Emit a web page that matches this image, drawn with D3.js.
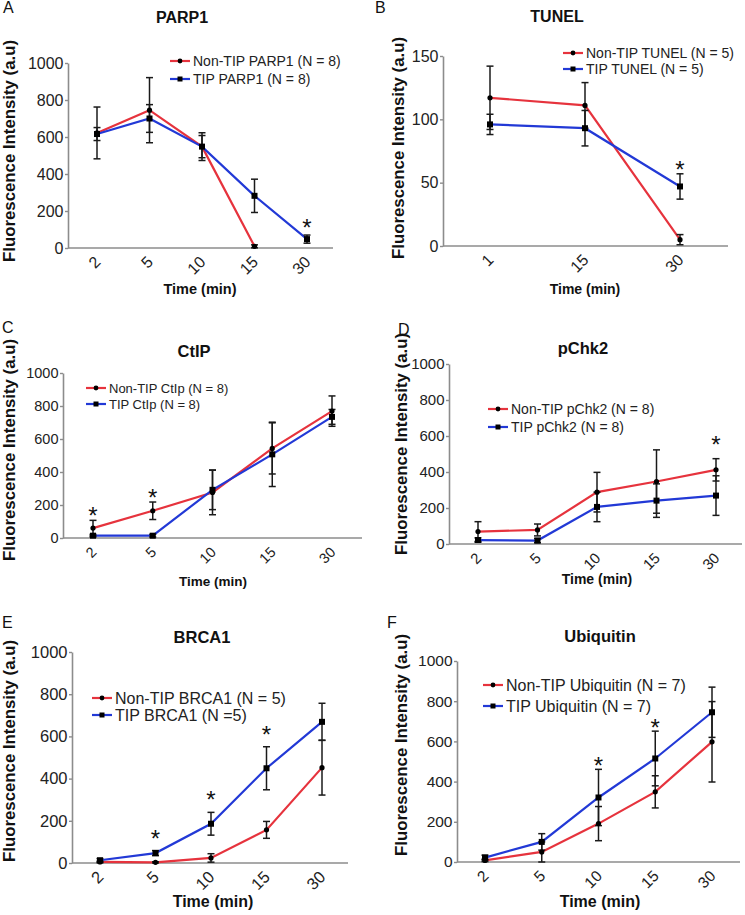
<!DOCTYPE html>
<html><head><meta charset="utf-8">
<script src="https://cdn.jsdelivr.net/npm/d3@7"></script>
<style>
body{margin:0;background:#fff}
svg{display:block}
text{font-family:"Liberation Sans",Arial,Helvetica,sans-serif}
</style>
</head><body>
<svg id="c" width="745" height="915"></svg>
<script>
// ---------- DATA ----------
const timesA = ["2","5","10","15","30"];
const parpNonTip    = [622, 745, 548, 9, null];
const parpNonTipErr = [140, 176, 75, 8, null];
const parpTip       = [616, 700, 548, 282, 48];
const parpTipErr    = [35, 75, 60, 90, 22];
const starsA = ["30"];

const timesB = ["1","15","30"];
const tunelNonTip    = [117, 111, 5];
const tunelNonTipErr = [25, 18, 4];
const tunelTip       = [96, 93, 47];
const tunelTipErr    = [8, 14, 10];
const starsB = ["30"];

const timesC = ["2","5","10","15","30"];
const ctipNonTip    = [60, 165, 276, 543, 769];
const ctipNonTipErr = [47, 53, 135, 155, 92];
const ctipTip       = [14, 14, 292, 507, 734];
const ctipTipErr    = [8, 8, 120, 195, 45];
const starsC = ["2","5"];

const timesD = ["2","5","10","15","30"];
const pchkNonTip    = [69, 78, 288, 347, 412];
const pchkNonTipErr = [55, 33, 110, 176, 62];
const pchkTip       = [22, 19, 206, 241, 269];
const pchkTipErr    = [12, 12, 82, 93, 110];
const starsD = ["30"];

const timesE = ["2","5","10","15","30"];
const brcaNonTip    = [5, 3, 24, 157, 452];
const brcaNonTipErr = [4, 3, 20, 40, 130];
const brcaTip       = [13, 47, 186, 449, 669];
const brcaTipErr    = [8, 12, 54, 102, 88];
const starsE = ["5","10","15"];

const timesF = ["2","5","10","15","30"];
const ubNonTip    = [8, 50, 191, 349, 598];
const ubNonTipErr = [6, 50, 85, 80, 200];
const ubTip       = [22, 100, 321, 515, 745];
const ubTipErr    = [12, 41, 140, 136, 125];
const starsF = ["10","15"];

const yTicks1000 = [0, 200, 400, 600, 800, 1000];
const yTicks150  = [0, 50, 100, 150];

// ---------- LAYOUT ----------
const RED = "#e6333d", BLUE = "#2239d6";
const panels = [
 {letter:"A", title:"PARP1", cats:timesA, red:parpNonTip, redErr:parpNonTipErr, blue:parpTip, blueErr:parpTipErr,
  redName:"Non-TIP PARP1 (N = 8)", blueName:"TIP PARP1 (N = 8)", yMax:1000, yTicks:yTicks1000, stars:starsA,
  L:{ax:68, ax2:333, y0:248, y1:63, x0:97, x1:307, titleX:182, titleY:23, titleFont:16, letterX:3, letterY:13,
     ylabX:15, ylabY:151, timeX:200, timeY:294, timeFont:14.5, legX:170, legY:61, legDy:18, legFont:14, tickFont:16, starGap:13}},
 {letter:"B", title:"TUNEL", cats:timesB, red:tunelNonTip, redErr:tunelNonTipErr, blue:tunelTip, blueErr:tunelTipErr,
  redName:"Non-TIP TUNEL (N = 5)", blueName:"TIP TUNEL (N = 5)", yMax:150, yTicks:yTicks150, stars:starsB,
  L:{ax:443, ax2:728, y0:246, y1:56, x0:490, x1:680, titleX:557, titleY:22, titleFont:16, letterX:375, letterY:13,
     ylabX:404, ylabY:148, timeX:585, timeY:294, timeFont:14, legX:563, legY:53, legDy:16, legFont:14, tickFont:16, starGap:10}},
 {letter:"C", title:"CtIP", cats:timesC, red:ctipNonTip, redErr:ctipNonTipErr, blue:ctipTip, blueErr:ctipTipErr,
  redName:"Non-TIP CtIp (N = 8)", blueName:"TIP CtIp (N = 8)", yMax:1000, yTicks:yTicks1000, stars:starsC,
  L:{ax:63, ax2:362, y0:538, y1:373, x0:93, x1:332, titleX:194, titleY:357, titleFont:16.5, letterX:2, letterY:333,
     ylabX:15, ylabY:450, timeX:213, timeY:586, timeFont:13.5, legX:86, legY:388, legDy:16, legFont:13, tickFont:14.5, starGap:10}},
 {letter:"D", title:"pChk2", cats:timesD, red:pchkNonTip, redErr:pchkNonTipErr, blue:pchkTip, blueErr:pchkTipErr,
  redName:"Non-TIP pChk2 (N = 8)", blueName:"TIP pChk2 (N = 8)", yMax:1000, yTicks:yTicks1000, stars:starsD,
  L:{ax:449, ax2:742, y0:544, y1:364, x0:478, x1:716, titleX:583, titleY:354, titleFont:16.5, letterX:398, letterY:335,
     ylabX:407, ylabY:444, timeX:597, timeY:584, timeFont:14, legX:488, legY:409, legDy:18, legFont:14, tickFont:15, starGap:20}},
 {letter:"E", title:"BRCA1", cats:timesE, red:brcaNonTip, redErr:brcaNonTipErr, blue:brcaTip, blueErr:brcaTipErr,
  redName:"Non-TIP BRCA1 (N = 5)", blueName:"TIP BRCA1 (N =5)", yMax:1000, yTicks:yTicks1000, stars:starsE,
  L:{ax:72, ax2:348, y0:863, y1:652, x0:100, x1:322, titleX:202, titleY:643, titleFont:16.5, letterX:2, letterY:628,
     ylabX:15, ylabY:751, timeX:213, timeY:907, timeFont:16, legX:92, legY:698, legDy:17, legFont:16, tickFont:16.5, starGap:18}},
 {letter:"F", title:"Ubiquitin", cats:timesF, red:ubNonTip, redErr:ubNonTipErr, blue:ubTip, blueErr:ubTipErr,
  redName:"Non-TIP Ubiquitin (N = 7)", blueName:"TIP Ubiquitin (N = 7)", yMax:1000, yTicks:yTicks1000, stars:starsF,
  L:{ax:457, ax2:740, y0:862, y1:661, x0:485, x1:712, titleX:600, titleY:642, titleFont:16.5, letterX:387, letterY:628,
     ylabX:407, ylabY:745, timeX:600, timeY:907, timeFont:16, legX:483, legY:685, legDy:21, legFont:16, tickFont:15.5, starGap:9}}
];

const svg = d3.select("#c");
const AXIS = "#8c8c8c", INK = "#1a1a1a";
const FONT = '"Liberation Sans",Arial,sans-serif';

panels.forEach(p => {
  const L = p.L;
  const g = svg.append("g");
  const x = d3.scalePoint().domain(p.cats).range([L.x0, L.x1]);
  const y = d3.scaleLinear().domain([0, p.yMax]).range([L.y0, L.y1]);

  // Y axis
  const ya = g.append("g").attr("transform", `translate(${L.ax},0)`)
    .call(d3.axisLeft(y).tickValues(p.yTicks).tickFormat(d3.format("d")).tickSize(3).tickSizeOuter(0).tickPadding(1.5));
  ya.attr("font-size", L.tickFont).attr("font-family", FONT);
  ya.select(".domain").attr("stroke", AXIS).attr("stroke-width", 1.6);
  ya.selectAll(".tick line").attr("stroke", AXIS).attr("stroke-width", 1.4);
  ya.selectAll(".tick text").attr("fill", "#222").attr("font-size", L.tickFont)
    .style("font-size", L.tickFont + "px");

  // X axis
  g.append("line").attr("x1", L.ax).attr("x2", L.ax2).attr("y1", L.y0).attr("y2", L.y0)
    .attr("stroke", AXIS).attr("stroke-width", 1.6);
  const xa = g.append("g").attr("transform", `translate(0,${L.y0})`)
    .call(d3.axisBottom(x).tickSize(0).tickPadding(0));
  xa.attr("font-size", L.tickFont).attr("font-family", FONT);
  xa.select(".domain").remove();
  xa.selectAll(".tick text")
    .attr("transform", "translate(4,15) rotate(-45)")
    .attr("y", 0).attr("dy", 0)
    .attr("text-anchor", "end")
    .attr("fill", "#222").attr("font-size", L.tickFont)
    .style("font-size", L.tickFont + "px");

  // texts
  g.append("text").attr("x", L.letterX).attr("y", L.letterY).text(p.letter)
    .style("font-size", "16px").attr("fill", "#111");
  g.append("text").attr("x", L.titleX).attr("y", L.titleY).attr("text-anchor", "middle")
    .style("font-size", L.titleFont + "px").style("font-weight", "bold").attr("fill", "#111").text(p.title);
  g.append("text").attr("transform", `translate(${L.ylabX},${L.ylabY}) rotate(-90)`).attr("text-anchor", "middle")
    .style("font-size", "16.8px").style("font-weight", "bold").attr("fill", "#111").text("Fluorescence Intensity (a.u)");
  g.append("text").attr("x", L.timeX).attr("y", L.timeY).attr("text-anchor", "middle")
    .style("font-size", L.timeFont + "px").style("font-weight", "bold").attr("fill", "#111").text("Time (min)");

  const series = [
    {vals:p.red, errs:p.redErr, color:RED, marker:"circle"},
    {vals:p.blue, errs:p.blueErr, color:BLUE, marker:"square"}
  ];

  const line = d3.line().defined(d => d.v != null).x(d => x(d.c)).y(d => y(d.v));
  series.forEach(s => {
    s.pts = p.cats.map((c, i) => ({c, v:s.vals[i], e:s.errs[i]}));
    g.append("path").datum(s.pts).attr("d", line).attr("fill", "none")
      .attr("stroke", s.color).attr("stroke-width", 2.2);
  });
  // error bars
  series.forEach(s => {
    const pts = s.pts.filter(d => d.v != null);
    const eb = g.append("g").attr("stroke", INK).attr("stroke-width", 1.5);
    pts.forEach(d => {
      const cx = x(d.c), yt = y(d.v + d.e), yb = y(Math.max(0, d.v - d.e));
      eb.append("line").attr("x1", cx).attr("x2", cx).attr("y1", yt).attr("y2", yb);
      eb.append("line").attr("x1", cx - 3.5).attr("x2", cx + 3.5).attr("y1", yt).attr("y2", yt);
      eb.append("line").attr("x1", cx - 3.5).attr("x2", cx + 3.5).attr("y1", yb).attr("y2", yb);
    });
  });
  // markers
  series.forEach(s => {
    const pts = s.pts.filter(d => d.v != null);
    if (s.marker === "circle") {
      g.selectAll(null).data(pts).enter().append("circle")
        .attr("cx", d => x(d.c)).attr("cy", d => y(d.v)).attr("r", 2.6).attr("fill", "#000");
    } else {
      g.selectAll(null).data(pts).enter().append("rect")
        .attr("x", d => x(d.c) - 3).attr("y", d => y(d.v) - 3).attr("width", 6).attr("height", 6).attr("fill", "#000");
    }
  });
  // stars
  p.stars.forEach(c => {
    const i = p.cats.indexOf(c);
    let top = -Infinity;
    series.forEach(s => { if (s.vals[i] != null) top = Math.max(top, s.vals[i] + s.errs[i]); });
    const cy = y(top) - L.starGap;
    g.append("text").attr("x", x(c)).attr("y", cy + 14).attr("text-anchor", "middle")
      .style("font-size", "24px").attr("fill", "#111").text("*");
  });
  // legend
  const names = [p.redName, p.blueName];
  series.forEach((s, k) => {
    const ly = L.legY + k * L.legDy;
    g.append("line").attr("x1", L.legX).attr("x2", L.legX + 20).attr("y1", ly).attr("y2", ly)
      .attr("stroke", s.color).attr("stroke-width", 2.2);
    if (s.marker === "circle") g.append("circle").attr("cx", L.legX + 10).attr("cy", ly).attr("r", 2.4).attr("fill", "#000");
    else g.append("rect").attr("x", L.legX + 7.5).attr("y", ly - 2.5).attr("width", 5).attr("height", 5).attr("fill", "#000");
    g.append("text").attr("x", L.legX + 23).attr("y", ly).attr("dy", "0.36em")
      .style("font-size", L.legFont + "px").attr("fill", "#222").text(names[k]);
  });
});
</script>
</body></html>
